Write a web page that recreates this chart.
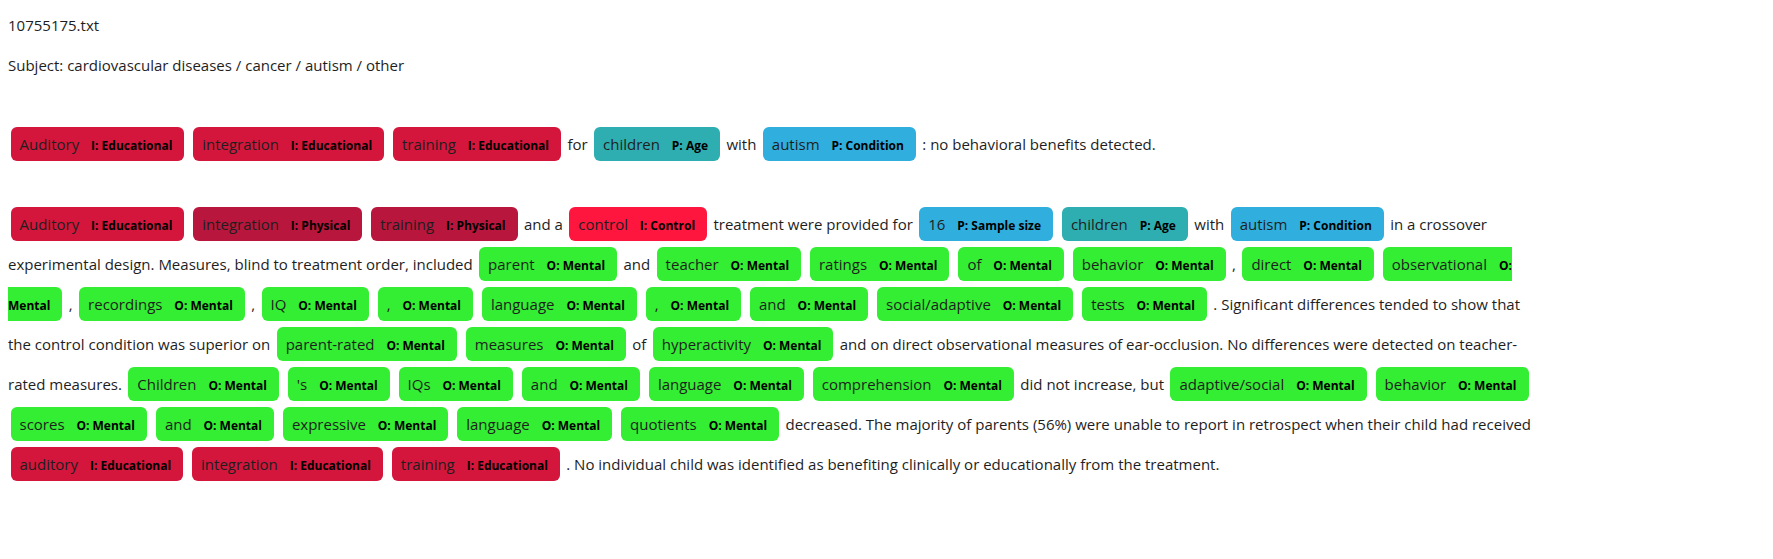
<!DOCTYPE html>
<html>
<head>
<meta charset="utf-8">
<script src="https://cdn.jsdelivr.net/npm/chart.js"></script>
<style>
    body {
        margin: 0;
        padding: 4px 8px 0 8px;
        background: #ffffff;
        font-family: "Open Sans", "Noto Sans", sans-serif;
        font-size: 15px;
        color: #1e1e1e;
    }
    #doc {
        width: 1532px;
        line-height: 40px;
    }
    #head {
        position: relative;
        top: 1px;
    }
    .ent {
        padding: 7px 12px 7px 9px;
        margin: 0 2.5px;
        border-radius: 6px;
        line-height: 1;
        color: #1e1e1e;
    }
    .ent .lbl {
        font-size: 12px;
        font-weight: bold;
        color: #000;
        line-height: 1;
        vertical-align: middle;
        margin-left: 8px;
    }
</style>
</head>
<body>
<div id="doc"></div>
<script>
// Datos del documento anotado
const fileName = '10755175.txt';
const subjectLine = 'Subject: cardiovascular diseases / cancer / autism / other';

// Etiquetas de entidad
const labelNames = ['I: Educational', 'I: Physical', 'I: Control', 'P: Age', 'P: Condition', 'P: Sample size', 'O: Mental'];

// Primer párrafo: [texto, etiqueta] (null = texto normal)
const paragraph1 = [
    ['Auditory', 'I: Educational'], ['integration', 'I: Educational'], ['training', 'I: Educational'],
    ['for', null], ['children', 'P: Age'], ['with', null], ['autism', 'P: Condition'],
    [': no behavioral benefits detected.', null]
];

// Segundo párrafo
const paragraph2 = [
    ['Auditory', 'I: Educational'], ['integration', 'I: Physical'], ['training', 'I: Physical'],
    ['and a', null], ['control', 'I: Control'], ['treatment were provided for', null],
    ['16', 'P: Sample size'], ['children', 'P: Age'], ['with', null], ['autism', 'P: Condition'],
    ['in a crossover experimental design. Measures, blind to treatment order, included', null],
    ['parent', 'O: Mental'], ['and', null], ['teacher', 'O: Mental'], ['ratings', 'O: Mental'],
    ['of', 'O: Mental'], ['behavior', 'O: Mental'], [',', null], ['direct', 'O: Mental'],
    ['observational', 'O: Mental'], [',', null], ['recordings', 'O: Mental'], [',', null],
    ['IQ', 'O: Mental'], [',', 'O: Mental'], ['language', 'O: Mental'], [',', 'O: Mental'],
    ['and', 'O: Mental'], ['social/adaptive', 'O: Mental'], ['tests', 'O: Mental'],
    ['. Significant differences tended to show that the control condition was superior on', null],
    ['parent-rated', 'O: Mental'], ['measures', 'O: Mental'], ['of', null], ['hyperactivity', 'O: Mental'],
    ['and on direct observational measures of ear-occlusion. No differences were detected on teacher-rated measures.', null],
    ['Children', 'O: Mental'], ["'s", 'O: Mental'], ['IQs', 'O: Mental'], ['and', 'O: Mental'],
    ['language', 'O: Mental'], ['comprehension', 'O: Mental'], ['did not increase, but', null],
    ['adaptive/social', 'O: Mental'], ['behavior', 'O: Mental'], ['scores', 'O: Mental'],
    ['and', 'O: Mental'], ['expressive', 'O: Mental'], ['language', 'O: Mental'], ['quotients', 'O: Mental'],
    ['decreased. The majority of parents (56%) were unable to report in retrospect when their child had received', null],
    ['auditory', 'I: Educational'], ['integration', 'I: Educational'], ['training', 'I: Educational'],
    ['. No individual child was identified as benefiting clinically or educationally from the treatment.', null]
];

// Colores por etiqueta (estilo, separado de los datos)
const labelColors = {
    'I: Educational': '#d4163c',
    'I: Physical': '#b8163c',
    'I: Control': '#fe163f',
    'P: Age': '#2eaeb0',
    'P: Condition': '#30aedd',
    'P: Sample size': '#30aedd',
    'O: Mental': '#33ee33'
};

function escapeHtml(s) {
    return s.replace(/&/g, '&amp;').replace(/</g, '&lt;').replace(/>/g, '&gt;');
}

// Construir un párrafo con marcas de entidad
function renderParagraph(tokens) {
    return tokens.map(([text, label]) => {
        if (!label) return escapeHtml(text);
        return `<mark class="ent" style="background:${labelColors[label]}">${escapeHtml(text)} <span class="lbl">${label}</span></mark>`;
    }).join(' ');
}

function renderDoc() {
    const doc = document.getElementById('doc');
    doc.innerHTML =
        '<div id="head">' + escapeHtml(fileName) + '<br>' + escapeHtml(subjectLine) + '</div><br>' +
        renderParagraph(paragraph1) + '<br><br>' +
        renderParagraph(paragraph2);
}

document.addEventListener('DOMContentLoaded', renderDoc);
</script>
</body>
</html>
